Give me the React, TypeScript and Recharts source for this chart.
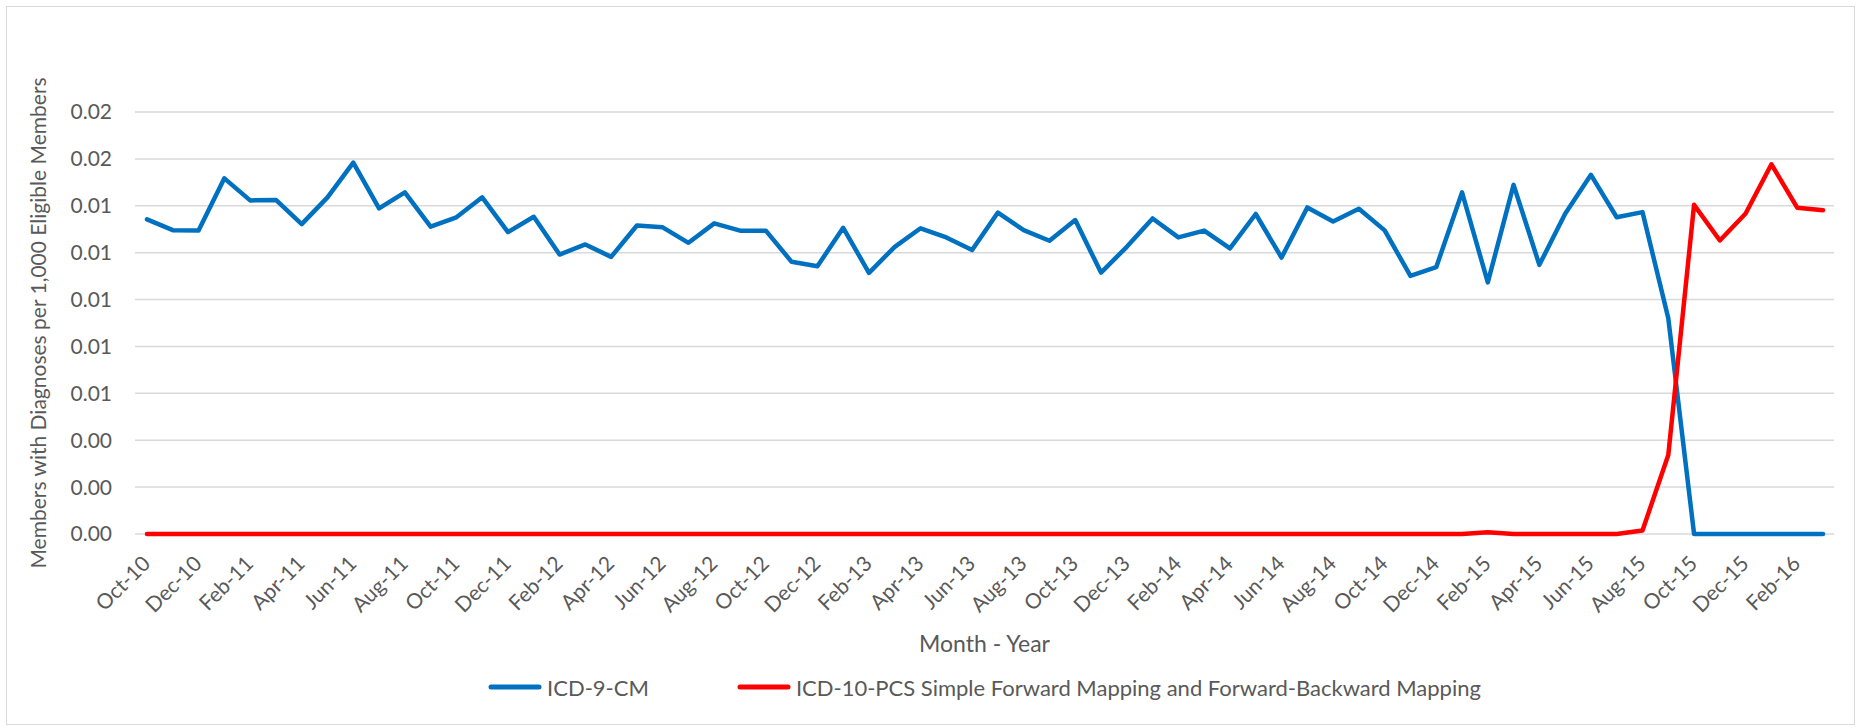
import React from 'react'
import { LineChart, Line, XAxis, YAxis, CartesianGrid, Legend } from 'recharts'

const MONTHS = [
  'Oct-10', 'Nov-10', 'Dec-10', 'Jan-11', 'Feb-11', 'Mar-11', 'Apr-11', 'May-11', 'Jun-11', 'Jul-11', 'Aug-11', 'Sep-11',
  'Oct-11', 'Nov-11', 'Dec-11', 'Jan-12', 'Feb-12', 'Mar-12', 'Apr-12', 'May-12', 'Jun-12', 'Jul-12', 'Aug-12', 'Sep-12',
  'Oct-12', 'Nov-12', 'Dec-12', 'Jan-13', 'Feb-13', 'Mar-13', 'Apr-13', 'May-13', 'Jun-13', 'Jul-13', 'Aug-13', 'Sep-13',
  'Oct-13', 'Nov-13', 'Dec-13', 'Jan-14', 'Feb-14', 'Mar-14', 'Apr-14', 'May-14', 'Jun-14', 'Jul-14', 'Aug-14', 'Sep-14',
  'Oct-14', 'Nov-14', 'Dec-14', 'Jan-15', 'Feb-15', 'Mar-15', 'Apr-15', 'May-15', 'Jun-15', 'Jul-15', 'Aug-15', 'Sep-15',
  'Oct-15', 'Nov-15', 'Dec-15', 'Jan-16', 'Feb-16', 'Mar-16',
]

const ICD9 = [
  0.01342, 0.01296, 0.01295, 0.01517, 0.01423, 0.01425, 0.01322, 0.01436, 0.01584, 0.01389, 0.01457, 0.01311,
  0.01351, 0.01436, 0.01288, 0.01353, 0.01192, 0.01235, 0.01182, 0.01316, 0.01308, 0.01242, 0.01325, 0.01294,
  0.01294, 0.01161, 0.01142, 0.01306, 0.01114, 0.01225, 0.01304, 0.01265, 0.01211, 0.01371, 0.01296, 0.01251,
  0.01339, 0.01115, 0.01225, 0.01346, 0.01265, 0.01294, 0.01218, 0.01365, 0.01179, 0.01393, 0.01333, 0.01387,
  0.01295, 0.01101, 0.01138, 0.01457, 0.01073, 0.01489, 0.01148, 0.01366, 0.01532, 0.01351, 0.01373, 0.0092,
  0, 0, 0, 0, 0, 0,
]

const ICD10 = [
  0, 0, 0, 0, 0, 0, 0, 0, 0, 0, 0, 0,
  0, 0, 0, 0, 0, 0, 0, 0, 0, 0, 0, 0,
  0, 0, 0, 0, 0, 0, 0, 0, 0, 0, 0, 0,
  0, 0, 0, 0, 0, 0, 0, 0, 0, 0, 0, 0,
  0, 0, 0, 0, 0.00007, 0, 0, 0, 0, 0, 0.00015, 0.00337,
  0.01404, 0.01252, 0.01367, 0.01577, 0.01392, 0.01381,
]

const Y_TICKS = [0, 0.002, 0.004, 0.006, 0.008, 0.01, 0.012, 0.014, 0.016, 0.018]

const SERIES = [
  { key: 'icd9', color: '#0070C0', label: 'ICD-9-CM' },
  { key: 'icd10', color: '#FF0000', label: 'ICD-10-PCS Simple Forward Mapping and Forward-Backward Mapping' },
]

const data = MONTHS.map((month, i) => ({ month, icd9: ICD9[i], icd10: ICD10[i] }))

const FONT = 'Lato, sans-serif'
const TEXT = '#595959'

function MonthTick({ x, y, payload }: any) {
  return (
    <g transform={`translate(${x + 4.5},${y + 31})`}>
      <text transform="rotate(-45)" textAnchor="end" fill={TEXT} fontSize={21} fontFamily={FONT}>
        {payload.value}
      </text>
    </g>
  )
}

function LegendContent() {
  return (
    <div style={{ height: 36, paddingTop: 10, boxSizing: 'border-box' }}>
      <div style={{ display: 'flex', justifyContent: 'center', alignItems: 'center', height: 26, gap: 88 }}>
        {SERIES.map((s) => (
          <div key={s.key} style={{ display: 'flex', alignItems: 'center', gap: 5 }}>
            <svg width={54} height={8}>
              <line x1={3} y1={4} x2={51} y2={4} stroke={s.color} strokeWidth={5} strokeLinecap="round" />
            </svg>
            <span style={{ fontFamily: FONT, fontSize: 22, color: TEXT, whiteSpace: 'nowrap' }}>{s.label}</span>
          </div>
        ))}
      </div>
    </div>
  )
}

export default function App() {
  return (
    <div style={{ position: 'absolute', left: 0, top: 0, width: 1860, height: 728, background: 'white' }}>
      <div
        style={{
          position: 'absolute', left: 6, top: 6, width: 1849, height: 719,
          border: '1px solid #d9d9d9', boxSizing: 'border-box',
        }}
      />
      <LineChart width={1860} height={728} data={data} margin={{ top: 112, right: 26, bottom: 28, left: 8 }}>
        <CartesianGrid vertical={false} stroke="#d9d9d9" strokeWidth={1.5} />
        <XAxis
          dataKey="month"
          interval={1}
          height={130}
          tickLine={false}
          axisLine={false}
          tickSize={0}
          tickMargin={0}
          padding={{ left: 12, right: 11 }}
          tick={<MonthTick />}
          label={{
            value: 'Month - Year',
            position: 'insideBottom',
            offset: 12,
            style: { fill: TEXT, fontSize: 23, fontFamily: FONT },
          }}
        />
        <YAxis
          width={127}
          domain={[0, 0.018]}
          ticks={Y_TICKS}
          tickFormatter={(v: number) => v.toFixed(2)}
          tickLine={false}
          axisLine={false}
          tickSize={0}
          tickMargin={23}
          tick={{ fill: TEXT, fontSize: 21, fontFamily: FONT }}
          label={{
            value: 'Members with Diagnoses per 1,000 Eligible Members',
            angle: -90,
            position: 'insideLeft',
            offset: 31,
            style: { textAnchor: 'middle', fill: TEXT, fontSize: 21, fontFamily: FONT },
          }}
        />
        <Legend
          verticalAlign="bottom"
          content={<LegendContent />}
          wrapperStyle={{ left: 135, width: 1699, height: 36 }}
        />
        {SERIES.map(({ key, color, label }) => (
          <Line
            key={key}
            type="linear"
            dataKey={key}
            name={label}
            stroke={color}
            strokeWidth={4.5}
            strokeLinejoin="round"
            strokeLinecap="round"
            dot={false}
            activeDot={false}
            isAnimationActive={false}
          />
        ))}
      </LineChart>
    </div>
  )
}
